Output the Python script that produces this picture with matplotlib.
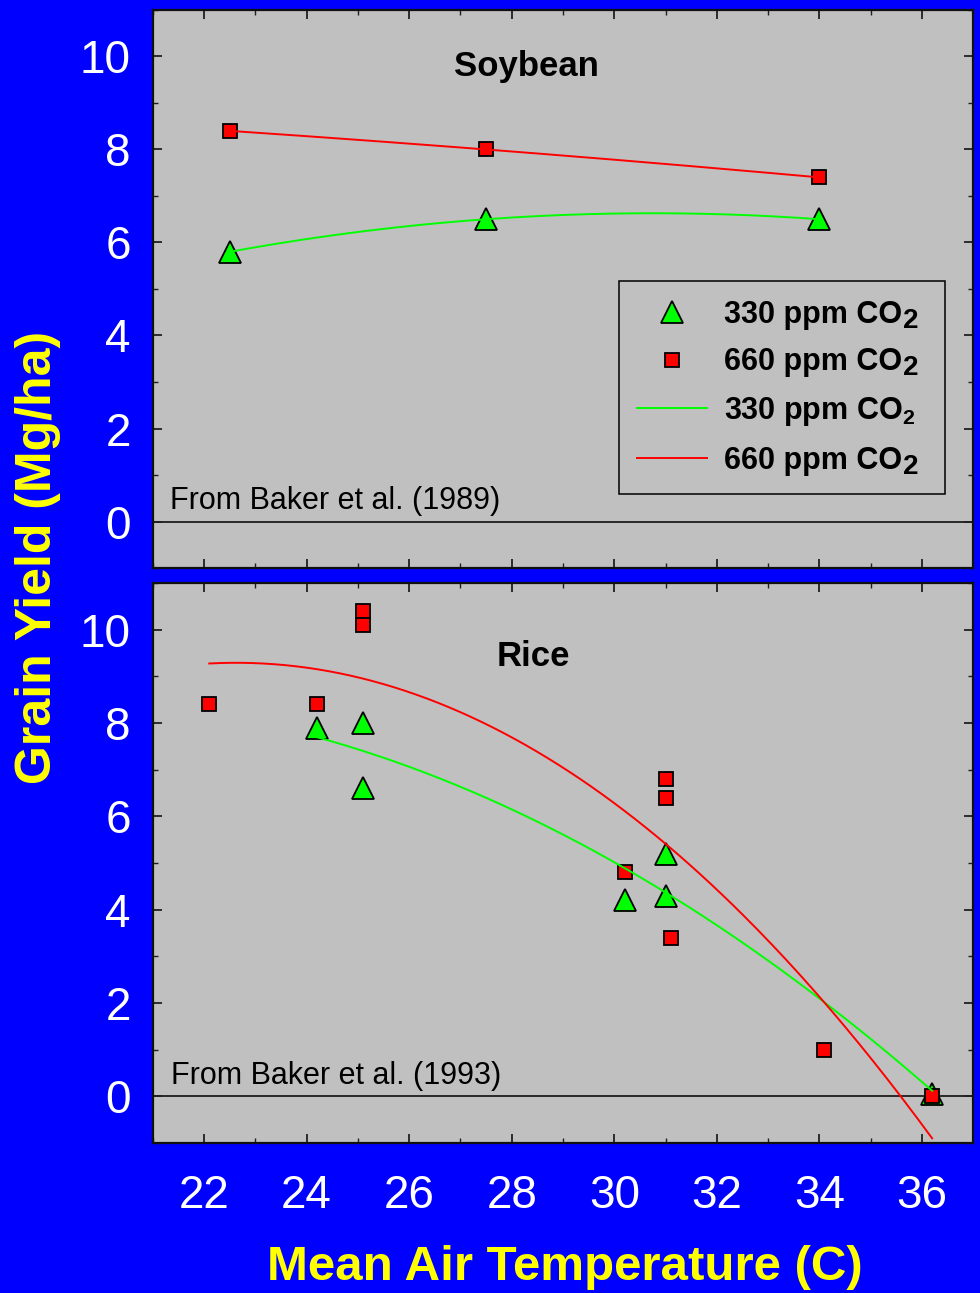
import numpy as np
import matplotlib
matplotlib.use("Agg")
import matplotlib.pyplot as plt
from matplotlib.lines import Line2D
from matplotlib.ticker import MultipleLocator
from matplotlib.transforms import IdentityTransform

plt.rcParams['font.family'] = ['Liberation Sans', 'DejaVu Sans']
plt.rcParams['mathtext.fontset'] = 'custom'
plt.rcParams['mathtext.rm'] = 'Liberation Sans'
plt.rcParams['mathtext.bf'] = 'Liberation Sans:bold'

# soybean (Baker et al. 1989)
soy_temp = [22.5, 27.5, 34.0]
soy_330 = [5.8, 6.5, 6.5]
soy_660 = [8.4, 8.0, 7.4]

# rice (Baker et al. 1993)
rice_temp_330 = [24.2, 25.1, 25.1, 30.2, 31.0, 31.0, 36.2]
rice_330 = [7.9, 8.0, 6.6, 4.2, 5.2, 4.3, 0.05]
rice_temp_660 = [22.1, 24.2, 25.1, 25.1, 30.2, 31.0, 31.0, 31.1, 34.1, 36.2]
rice_660 = [8.4, 8.4, 10.4, 10.1, 4.8, 6.8, 6.4, 3.4, 1.0, 0.0]

bg_blue = '#0000FF'
panel_gray = '#C0C0C0'
green = '#00FF00'
red = '#FF0000'

fig = plt.figure(figsize=(9.8, 12.93), dpi=100, facecolor=bg_blue)
ax1 = fig.add_axes([0.156, 0.5607, 0.837, 0.4316])
ax2 = fig.add_axes([0.156, 0.116, 0.837, 0.4331])


def quad_curve(x, y):
    coef = np.polyfit(x, y, 2)
    xs = np.linspace(min(x), max(x), 200)
    return xs, np.polyval(coef, xs)


def style_axes(ax, show_xlabels):
    ax.set_facecolor(panel_gray)
    ax.set_xlim(21, 37)
    ax.set_ylim(-1, 11)
    ax.xaxis.set_major_locator(MultipleLocator(2))
    ax.xaxis.set_minor_locator(MultipleLocator(1))
    ax.yaxis.set_major_locator(MultipleLocator(2))
    ax.yaxis.set_minor_locator(MultipleLocator(1))
    ax.tick_params(which='both', direction='in', top=True, right=True, color='#202020')
    ax.tick_params(which='major', length=6.5, width=1.3)
    ax.tick_params(which='minor', length=3.5, width=1.0)
    ax.tick_params(axis='y', labelsize=33, labelcolor='white', pad=16)
    ax.tick_params(axis='x', labelsize=33, labelcolor='white', pad=22,
                   labelbottom=show_xlabels)
    for sp in ax.spines.values():
        sp.set_linewidth(1.6)
        sp.set_color('#101010')
    ax.axhline(0, color='black', lw=1.1, zorder=1)


style_axes(ax1, False)
style_axes(ax2, True)

# top panel: soybean
ax1.plot(soy_temp, soy_330, ls='none', marker='^', ms=16, mfc=green, mec='black', mew=1.3, zorder=3)
ax1.plot(soy_temp, soy_660, ls='none', marker='s', ms=9.5, mfc=red, mec='black', mew=1.3, zorder=3)
xs, ys = quad_curve(soy_temp, soy_330)
ax1.plot(xs, ys, color=green, lw=1.4, zorder=4)
xs, ys = quad_curve(soy_temp, soy_660)
ax1.plot(xs, ys, color=red, lw=1.4, zorder=4)
ax1.text(0.456, 0.898, 'Soybean', transform=ax1.transAxes, ha='center', va='center',
         fontsize=25, fontweight='bold')
ax1.text(0.021, 0.12, 'From Baker et al. (1989)', transform=ax1.transAxes,
         ha='left', va='center', fontsize=22)

handles = [
    Line2D([], [], ls='none', marker='^', ms=16, mfc=green, mec='black', mew=1.3),
    Line2D([], [], ls='none', marker='s', ms=9.5, mfc=red, mec='black', mew=1.3),
    Line2D([], [], color=green, lw=1.4),
    Line2D([], [], color=red, lw=1.4),
]
# full-size "2" is added after layout for entries 0, 1 and 3
labels = ['330 ppm CO', '660 ppm CO', r'330 ppm CO$_\mathbf{2}$', '660 ppm CO']
big_sub = [0, 1, 3]
leg = ax1.legend(handles, labels, loc='upper left',
                 bbox_to_anchor=(0.568, 0.133, 0.398, 0.381), mode='expand',
                 borderaxespad=0, fancybox=False, framealpha=1, facecolor=panel_gray,
                 edgecolor='black', prop={'size': 22, 'weight': 'bold'},
                 handlelength=2.3, handletextpad=0.55, labelspacing=0.58,
                 borderpad=0.6)
leg.get_frame().set_linewidth(1.1)

# bottom panel: rice
ax2.plot(rice_temp_330, rice_330, ls='none', marker='^', ms=16, mfc=green, mec='black', mew=1.3, zorder=3)
ax2.plot(rice_temp_660, rice_660, ls='none', marker='s', ms=9.5, mfc=red, mec='black', mew=1.3, zorder=3)
xs, ys = quad_curve(rice_temp_330, rice_330)
ax2.plot(xs, ys, color=green, lw=1.4, zorder=4)
xs, ys = quad_curve(rice_temp_660, rice_660)
ax2.plot(xs, ys, color=red, lw=1.4, zorder=4)
ax2.text(0.464, 0.868, 'Rice', transform=ax2.transAxes, ha='center', va='center',
         fontsize=25, fontweight='bold')
ax2.text(0.022, 0.12, 'From Baker et al. (1993)', transform=ax2.transAxes,
         ha='left', va='center', fontsize=22)

fig.text(38 / 980, 1 - 557 / 1293, 'Grain Yield (Mg/ha)', rotation=90, ha='center',
         va='center', color='yellow', fontsize=36, fontweight='bold')
fig.text(565 / 980, 1 - 1268 / 1293, 'Mean Air Temperature (C)', ha='center',
         va='center', color='yellow', fontsize=35.5, fontweight='bold')

fig.canvas.draw()
renderer = fig.canvas.get_renderer()
for i in big_sub:
    t = leg.get_texts()[i]
    bb = t.get_window_extent(renderer)
    base = t.get_transform().transform(t.get_position())
    fig.text(bb.x1 + 1, base[1] - 5, '2', transform=IdentityTransform(),
             ha='left', va='baseline', fontsize=20, fontweight='bold', zorder=10)

fig.savefig('out.png', dpi=100, facecolor=bg_blue)
